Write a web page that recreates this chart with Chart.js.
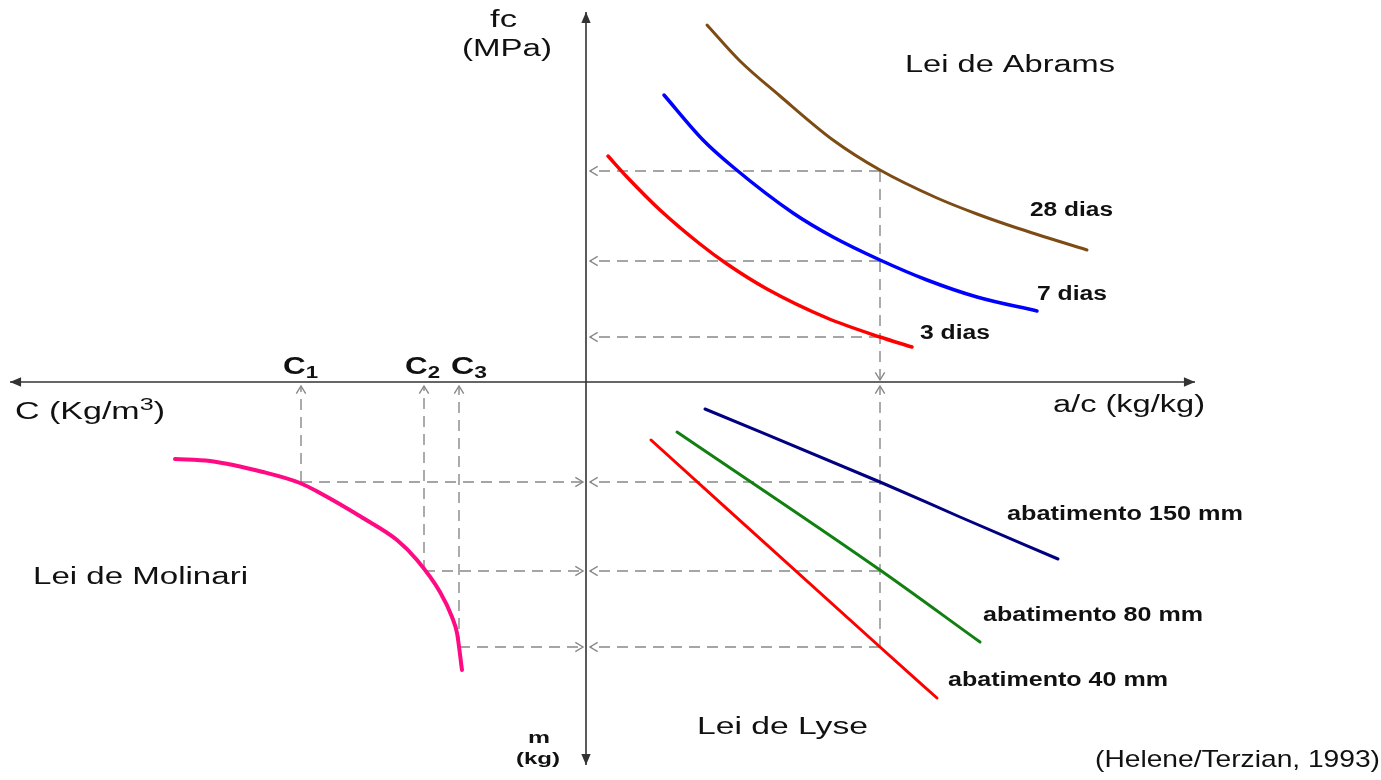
<!DOCTYPE html>
<html>
<head>
<meta charset="utf-8">
<script src="https://cdn.jsdelivr.net/npm/chart.js@4/dist/chart.umd.min.js"></script>
<style>
html, body { margin: 0; padding: 0; background: #fff; }
#wrap { width: 1381px; height: 780px; }
</style>
</head>
<body>
<div id="wrap"><canvas id="chart" width="1381" height="780"></canvas></div>
<script>
// ── Data (diagram units, origin where the two axes cross) ────────────
// Lei de Abrams: fc vs a/c
const abrams28X = [1.21, 1.54, 1.94, 2.47, 2.94, 3.51, 3.91, 4.31, 5.01];
const abrams28Y = [3.57, 3.21, 2.86, 2.42, 2.12, 1.84, 1.68, 1.54, 1.32];
const abrams7X  = [0.78, 1.17, 1.47, 2.07, 2.47, 2.94, 3.41, 3.91, 4.51];
const abrams7Y  = [2.87, 2.42, 2.15, 1.69, 1.45, 1.22, 1.02, 0.85, 0.71];
const abrams3X  = [0.22, 0.41, 0.74, 1.14, 1.41, 1.81, 2.41, 2.94, 3.26];
const abrams3Y  = [2.26, 2.05, 1.72, 1.38, 1.18, 0.93, 0.64, 0.45, 0.35];

// Lei de Lyse: m vs a/c
const lyse150X = [1.19, 2.94, 3.74, 4.72];
const lyse150Y = [-0.27, -1.00, -1.35, -1.77];
const lyse80X  = [0.91, 2.94, 3.94];
const lyse80Y  = [-0.50, -1.88, -2.60];
const lyse40X  = [0.65, 2.94, 3.51];
const lyse40Y  = [-0.58, -2.65, -3.16];

// Lei de Molinari: C vs m
const molinariX = [-4.11, -3.76, -3.23, -2.86, -2.66, -2.23, -1.89, -1.69, -1.46, -1.34, -1.29, -1.24];
const molinariY = [-0.77, -0.79, -0.90, -1.01, -1.11, -1.36, -1.58, -1.78, -2.10, -2.35, -2.51, -2.88];

// Reading guides
const acChosen = 2.94;
const fcLevels = [2.11, 1.21, 0.45];     // 28, 7, 3 dias
const mLevels  = [-1.00, -1.89, -2.65];  // 150, 80, 40 mm
const cLevels  = [-2.85, -1.62, -1.27];  // C1, C2, C3

// Axis extents
const axisX = [-5.76, 6.09];
const axisY = [-3.83, 3.70];

// ── Helpers ──────────────────────────────────────────────────────────
const FONT = '"Liberation Sans", Arial, sans-serif';
const zip = (xs, ys) => xs.map((x, i) => ({ x, y: ys[i] }));

function curve(xs, ys, color, width) {
    return {
        data: zip(xs, ys),
        showLine: true,
        borderColor: color,
        borderWidth: width,
        pointRadius: 0,
        cubicInterpolationMode: 'monotone',
        borderCapStyle: 'round',
        order: 0
    };
}

function guide(x0, y0, x1, y1) {
    return {
        data: [{ x: x0, y: y0 }, { x: x1, y: y1 }],
        showLine: true,
        borderColor: '#888',
        borderWidth: 1.4,
        borderDash: [11, 7],
        pointRadius: 0,
        order: 2,
        arrow: { style: 'open', ends: ['end'] }
    };
}

function axisLine(pts) {
    return {
        data: pts,
        showLine: true,
        borderColor: '#333',
        borderWidth: 1.6,
        pointRadius: 0,
        order: 1,
        arrow: { style: 'filled', ends: ['start', 'end'] }
    };
}

// ── Datasets ─────────────────────────────────────────────────────────
const gap = 0.04;
const datasets = [
    axisLine([{ x: axisX[0], y: 0 }, { x: axisX[1], y: 0 }]),
    axisLine([{ x: 0, y: axisY[1] }, { x: 0, y: axisY[0] }]),

    curve(abrams28X, abrams28Y, '#7d4b14', 3),
    curve(abrams7X, abrams7Y, '#0000ff', 3.5),
    curve(abrams3X, abrams3Y, '#ff0000', 3.5),
    curve(lyse150X, lyse150Y, '#000080', 3),
    curve(lyse80X, lyse80Y, '#118011', 3),
    curve(lyse40X, lyse40Y, '#ff0000', 3),
    curve(molinariX, molinariY, '#ff0a82', 4),

    guide(acChosen, fcLevels[0], acChosen, 0.02)
];
fcLevels.forEach(f => datasets.push(guide(acChosen, f, gap, f)));
datasets.push(guide(acChosen, mLevels[2], acChosen, -gap));
mLevels.forEach((m, i) => {
    datasets.push(guide(acChosen, m, gap, m));
    datasets.push(guide(cLevels[i], m, -0.03, m));
    datasets.push(guide(cLevels[i], m, cLevels[i], -gap));
});

// ── Labels ───────────────────────────────────────────────────────────
const reg = s => `${s}px ${FONT}`;
const bold = s => `bold ${s}px ${FONT}`;
const labels = [
    { x: -0.96, y: 3.61, w: 27, segs: [{ t: 'fc', font: reg(23) }] },
    { x: -1.24, y: 3.32, w: 90, segs: [{ t: '(MPa)', font: reg(23) }] },
    { x: 3.19, y: 3.16, w: 210, segs: [{ t: 'Lei de Abrams', font: reg(23) }] },
    { x: 4.44, y: 1.72, w: 83, segs: [{ t: '28 dias', font: bold(20) }] },
    { x: 4.51, y: 0.88, w: 70, segs: [{ t: '7 dias', font: bold(20) }] },
    { x: 3.34, y: 0.49, w: 70, segs: [{ t: '3 dias', font: bold(20) }] },
    { x: -5.71, y: -0.31, w: 150, segs: [
        { t: 'C (Kg/m', font: reg(23) },
        { t: '3', font: reg(17), dy: -8 },
        { t: ')', font: reg(23) }
    ] },
    { x: -3.03, y: 0.15, w: 35, segs: [{ t: 'C', font: bold(24) }, { t: '1', font: bold(17), dy: 6 }] },
    { x: -1.81, y: 0.15, w: 35, segs: [{ t: 'C', font: bold(24) }, { t: '2', font: bold(17), dy: 6 }] },
    { x: -1.35, y: 0.15, w: 36, segs: [{ t: 'C', font: bold(24) }, { t: '3', font: bold(17), dy: 6 }] },
    { x: 4.67, y: -0.24, w: 152, segs: [{ t: 'a/c (kg/kg)', font: reg(23) }] },
    { x: 4.21, y: -1.32, w: 236, segs: [{ t: 'abatimento 150 mm', font: bold(20) }] },
    { x: 3.97, y: -2.33, w: 220, segs: [{ t: 'abatimento 80 mm', font: bold(20) }] },
    { x: 3.62, y: -2.98, w: 220, segs: [{ t: 'abatimento 40 mm', font: bold(20) }] },
    { x: -5.53, y: -1.96, w: 215, segs: [{ t: 'Lei de Molinari', font: reg(23) }] },
    { x: 1.11, y: -3.46, w: 171, segs: [{ t: 'Lei de Lyse', font: reg(23) }] },
    { x: -0.58, y: -3.56, w: 22, segs: [{ t: 'm', font: bold(17) }] },
    { x: -0.70, y: -3.77, w: 44, segs: [{ t: '(kg)', font: bold(17) }] },
    { x: 5.09, y: -3.78, w: 285, segs: [{ t: '(Helene/Terzian, 1993)', font: reg(24) }] }
];

// ── Plugins ──────────────────────────────────────────────────────────
const arrowPlugin = {
    id: 'arrows',
    afterDatasetsDraw(chart) {
        const ctx = chart.ctx;
        chart.data.datasets.forEach((ds, i) => {
            if (!ds.arrow) return;
            const pts = chart.getDatasetMeta(i).data;
            ds.arrow.ends.forEach(end => {
                const tip = end === 'end' ? pts[pts.length - 1] : pts[0];
                const from = end === 'end' ? pts[pts.length - 2] : pts[1];
                const ang = Math.atan2(tip.y - from.y, tip.x - from.x);
                ctx.save();
                if (ds.arrow.style === 'filled') {
                    const len = 12, spread = 0.4;
                    ctx.fillStyle = ds.borderColor;
                    ctx.beginPath();
                    ctx.moveTo(tip.x, tip.y);
                    ctx.lineTo(tip.x - len * Math.cos(ang - spread), tip.y - len * Math.sin(ang - spread));
                    ctx.lineTo(tip.x - len * Math.cos(ang + spread), tip.y - len * Math.sin(ang + spread));
                    ctx.closePath();
                    ctx.fill();
                } else {
                    const len = 9, spread = 0.55;
                    ctx.strokeStyle = ds.borderColor;
                    ctx.lineWidth = 1.4;
                    ctx.beginPath();
                    ctx.moveTo(tip.x - len * Math.cos(ang - spread), tip.y - len * Math.sin(ang - spread));
                    ctx.lineTo(tip.x, tip.y);
                    ctx.lineTo(tip.x - len * Math.cos(ang + spread), tip.y - len * Math.sin(ang + spread));
                    ctx.stroke();
                }
                ctx.restore();
            });
        });
    }
};

const labelPlugin = {
    id: 'labels',
    afterDraw(chart) {
        const ctx = chart.ctx;
        const xs = chart.scales.x, ys = chart.scales.y;
        ctx.save();
        ctx.fillStyle = '#111';
        ctx.textBaseline = 'middle';
        ctx.textAlign = 'left';
        labels.forEach(l => {
            let total = 0;
            l.segs.forEach(s => { ctx.font = s.font; s.w = ctx.measureText(s.t).width; total += s.w; });
            const sx = l.w / total;
            ctx.save();
            ctx.translate(xs.getPixelForValue(l.x), ys.getPixelForValue(l.y));
            ctx.scale(sx, 1);
            let cx = 0;
            l.segs.forEach(s => {
                ctx.font = s.font;
                ctx.fillText(s.t, cx, s.dy || 0);
                cx += s.w;
            });
            ctx.restore();
        });
        ctx.restore();
    }
};

// ── Chart ────────────────────────────────────────────────────────────
new Chart(document.getElementById('chart').getContext('2d'), {
    type: 'scatter',
    data: { datasets },
    options: {
        responsive: false,
        animation: false,
        events: [],
        layout: { padding: 0 },
        plugins: { legend: { display: false }, tooltip: { enabled: false } },
        scales: {
            x: { type: 'linear', min: -5.86, max: 7.95, display: false },
            y: { type: 'linear', min: -3.98, max: 3.82, display: false }
        }
    },
    plugins: [arrowPlugin, labelPlugin]
});
</script>
</body>
</html>
